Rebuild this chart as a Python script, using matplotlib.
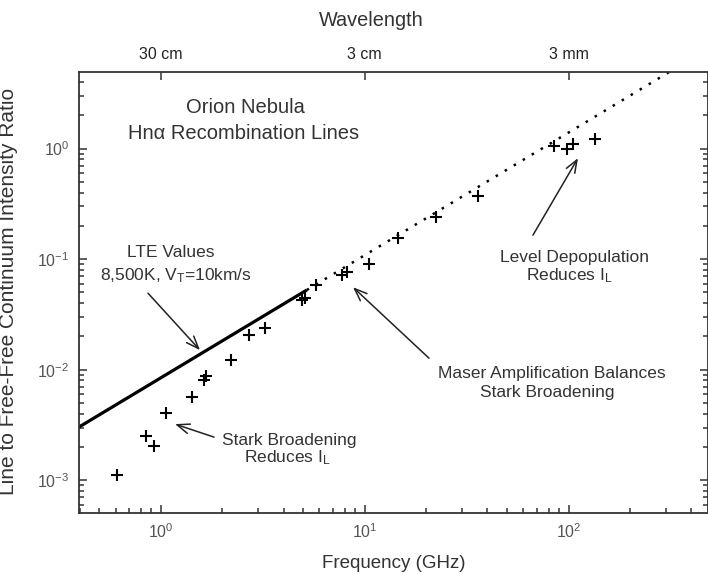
import numpy as np
import matplotlib
matplotlib.use("Agg")
import matplotlib.pyplot as plt
from matplotlib.ticker import LogFormatterMathtext, LogLocator, NullLocator, NullFormatter

plt.rcParams['font.family'] = ['Liberation Sans', 'DejaVu Sans']
plt.rcParams['mathtext.fontset'] = 'custom'
plt.rcParams['mathtext.rm'] = 'Liberation Sans'
plt.rcParams['mathtext.it'] = 'Liberation Sans:italic'
plt.rcParams['mathtext.bf'] = 'Liberation Sans:bold'

# observed Hn-alpha line/continuum ratios (GHz, ratio)
obs_freq = [0.61, 0.85, 0.93, 1.06, 1.42, 1.62, 1.67, 2.22, 2.70, 3.26,
            4.95, 5.07, 5.75, 7.77, 8.19, 10.5, 14.6, 22.3, 35.9,
            84.4, 98.2, 105, 134]
obs_ratio = [1.11e-3, 2.51e-3, 2.03e-3, 4.04e-3, 5.7e-3, 8.1e-3, 8.8e-3,
             0.0123, 0.0204, 0.0239, 0.043, 0.0445, 0.058, 0.0716, 0.0767,
             0.0906, 0.154, 0.241, 0.374, 1.05, 0.99, 1.11, 1.21]

# LTE model line (solid part, then dotted extension)
lte_solid_freq = [0.397, 5.2]
lte_solid_ratio = [3.03e-3, 0.0526]
lte_dotted_freq = [5.2, 313]
lte_dotted_ratio = [0.0526, 4.96]

# top axis
wavelength_cm = [30, 3, 0.3]
wavelength_labels = ['30 cm', '3 cm', '3 mm']

txt = '#333333'
tick_col = '#555555'

fig = plt.figure(figsize=(7.08, 5.74), dpi=100)
ax = fig.add_axes([0.1116, 0.107, 0.889, 0.768])

ax.plot(lte_solid_freq, lte_solid_ratio, color='black', lw=2.3, solid_capstyle='butt')
ax.plot(lte_dotted_freq, lte_dotted_ratio, color='black', lw=1.8,
        linestyle=(0, (1, 3.2)))
ax.plot(obs_freq, obs_ratio, linestyle='none', marker='+', markersize=9,
        markeredgewidth=1.5, color='black')

ax.set_xscale('log')
ax.set_yscale('log')
ax.set_xlim(0.397, 485)
ax.set_ylim(5.1e-4, 4.96)

for s in ax.spines.values():
    s.set_color('#333333')
    s.set_linewidth(1.3)

ax.xaxis.set_major_formatter(LogFormatterMathtext())
ax.yaxis.set_major_formatter(LogFormatterMathtext())
ax.xaxis.set_minor_locator(LogLocator(base=10, subs=np.arange(2, 10)))
ax.yaxis.set_minor_locator(LogLocator(base=10, subs=np.arange(2, 10)))
ax.xaxis.set_minor_formatter(NullFormatter())
ax.yaxis.set_minor_formatter(NullFormatter())
ax.tick_params(which='both', direction='in', top=False, right=True,
               color='#333333', width=1.1, labelcolor=tick_col, labelsize=11.5)
ax.tick_params(which='major', length=6, pad=7)
ax.tick_params(which='minor', length=3.5)

top = ax.twiny()
top.set_xscale('log')
top.set_xlim(ax.get_xlim())
top.set_xticks([30.0 / w for w in wavelength_cm])
top.set_xticklabels(wavelength_labels)
top.xaxis.set_minor_locator(NullLocator())
top.tick_params(direction='in', length=6, width=1.1, color='#333333',
                labelcolor='#222222', labelsize=11.5, pad=7)
for s in top.spines.values():
    s.set_visible(False)

ax.set_xlabel('Frequency (GHz)', fontsize=13.5, color=txt)
ax.xaxis.set_label_coords(0.5, -0.0964)
ax.set_ylabel('Line to Free-Free Continuum Intensity Ratio', fontsize=15, color=txt)
ax.yaxis.set_label_coords(-0.097, 0.502)
ax.text(0.464, 1.117, 'Wavelength', transform=ax.transAxes, fontsize=14.3,
        color=txt, ha='center', va='center')

tk = dict(transform=ax.transAxes, ha='center', va='center', color=txt)
ax.text(0.2637, 0.9195, 'Orion Nebula', fontsize=14.5, **tk)
ax.text(0.2621, 0.8605, 'Hn\u03b1 Recombination Lines', fontsize=14.5, **tk)
ax.text(0.1461, 0.5907, 'LTE Values', fontsize=12.5, **tk)
ax.text(0.1541, 0.5385, r'8,500K, V$_{\mathrm{T}}$=10km/s', fontsize=12.5, **tk)
ax.text(0.3336, 0.1644, 'Stark Broadening', fontsize=12.5, **tk)
ax.text(0.3304, 0.1236, r'Reduces I$_{\mathrm{L}}$', fontsize=12.5, **tk)
ax.text(0.7514, 0.3163, 'Maser Amplification Balances', fontsize=12.5, **tk)
ax.text(0.7442, 0.2732, 'Stark Broadening', fontsize=12.5, **tk)
ax.text(0.7879, 0.5794, 'Level Depopulation', fontsize=12.5, **tk)
ax.text(0.7784, 0.5385, r'Reduces I$_{\mathrm{L}}$', fontsize=12.5, **tk)

arrow = dict(arrowstyle='->,head_length=0.9,head_width=0.35', lw=1.1,
             color='#222222', shrinkA=0, shrinkB=0)
arrows = [((0.1096, 0.4977), (0.1922, 0.3685)),
          ((0.2145, 0.1712), (0.1525, 0.2007)),
          ((0.556, 0.3503), (0.4353, 0.5113)),
          ((0.7212, 0.6293), (0.7927, 0.8039))]
for tail, head in arrows:
    ax.annotate('', xy=head, xytext=tail, xycoords='axes fraction',
                textcoords='axes fraction', arrowprops=arrow)

fig.savefig('out.png', dpi=100)
